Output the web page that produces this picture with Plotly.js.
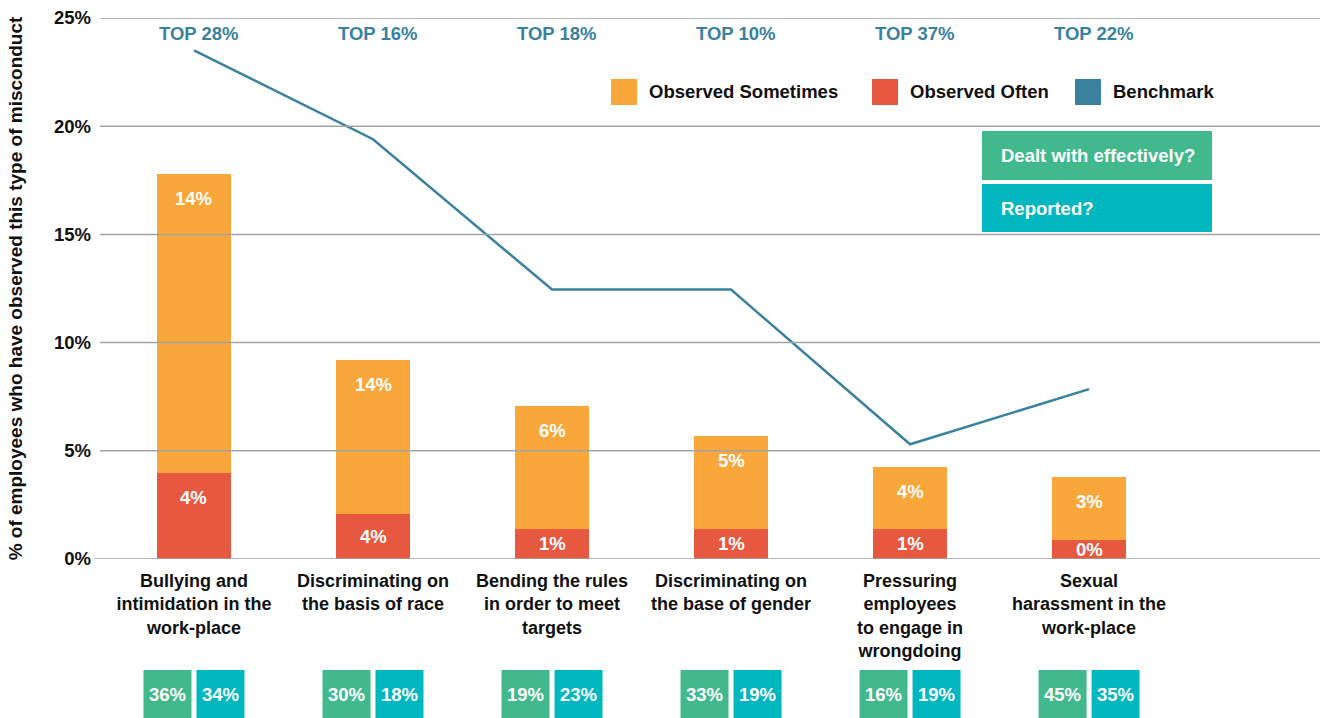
<!DOCTYPE html>
<html>
<head>
<meta charset="utf-8">
<script src="https://cdn.plot.ly/plotly-3.0.1.min.js"></script>
<style>html,body{margin:0;padding:0;background:#fff;}#chart{width:1325px;height:718px;}</style>
</head>
<body>
<div id="chart"></div>
<script>
// ---- data ----
const categories = ['Bullying and intimidation in the work-place','Discriminating on the basis of race','Bending the rules in order to meet targets','Discriminating on the base of gender','Pressuring employees to engage in wrongdoing','Sexual harassment in the work-place'];
const tickLabels = ['Bullying and<br>intimidation in the<br>work-place','Discriminating on<br>the basis of race','Bending the rules<br>in order to meet<br>targets','Discriminating on<br>the base of gender','Pressuring<br>employees<br>to engage in<br>wrongdoing','Sexual<br>harassment in the<br>work-place'];
const observedOften = [3.98, 2.08, 1.39, 1.39, 1.39, 0.88];
const observedSometimes = [13.82, 7.12, 5.69, 4.30, 2.87, 2.92];
const benchmark = [23.5, 19.4, 12.45, 12.45, 5.3, 7.85];
const oftenLabels = ['4%','4%','1%','1%','1%','0%'];
const sometimesLabels = ['14%','14%','6%','5%','4%','3%'];
const topLabels = ['TOP 28%','TOP 16%','TOP 18%','TOP 10%','TOP 37%','TOP 22%'];
const dealtWith = ['36%','30%','19%','33%','16%','45%'];
const reported = ['34%','18%','23%','19%','19%','35%'];
const yTicks = [0,5,10,15,20,25];

// ---- styling ----
const C_SOME = '#f9a63a', C_OFTEN = '#e6583f', C_BENCH = '#3a819f';
const C_DEALT = '#41b98d', C_REP = '#00b7c0', C_GRID = '#a3a3a3';
const FONT = 'Liberation Sans, Arial, sans-serif';
const FS = 18.5;
const W = 1325, H = 718;
const M = {l:100, r:5, t:18, b:159};
const PW = W - M.l - M.r, PH = H - M.t - M.b;
const px = x => (x - M.l) / PW;          // pixel -> paper x
const py = y => (H - M.b - y) / PH;       // pixel -> paper y
const idx = categories.map((c,i)=>i);
const BARW = 0.413;
const pxPerUnitY = PH / 25;
const boldWhite = {family:FONT, size:FS, color:'#fff', weight:'bold'};

const traces = [
  {type:'bar', x:idx, y:observedOften, width:BARW, marker:{color:C_OFTEN}, name:'Observed Often', hoverinfo:'skip'},
  {type:'bar', x:idx, y:observedSometimes, width:BARW, marker:{color:C_SOME}, name:'Observed Sometimes', hoverinfo:'skip'},
  {type:'scatter', mode:'lines', x:idx, y:benchmark, line:{color:C_BENCH, width:2.5}, name:'Benchmark', hoverinfo:'skip'}
];

const shapes = [], annotations = [];
// gridlines above bars
yTicks.forEach(v => {
  shapes.push({type:'line', xref:'paper', yref:'y', x0: v===0 ? px(94) : 0, x1: px(1320), y0:v, y1:v,
    line:{color:C_GRID, width:1.5}, layer:'above'});
});
// in-bar labels
const off = 25 / pxPerUnitY;
idx.forEach(i => {
  const t1 = observedOften[i];
  const y1 = Math.max(t1 - off, t1/2);
  annotations.push({x:i, y:y1, xref:'x', yref:'y', yanchor:'middle', text:oftenLabels[i], showarrow:false, font:boldWhite});
  const t2 = observedOften[i] + observedSometimes[i];
  const y2 = Math.max(t2 - off, (t1+t2)/2);
  annotations.push({x:i, y:y2, xref:'x', yref:'y', yanchor:'middle', text:sometimesLabels[i], showarrow:false, font:boldWhite});
  // TOP labels
  annotations.push({x:i, y:25, xref:'x', yref:'y', yanchor:'middle', yshift:-15, xshift:5, text:topLabels[i], showarrow:false,
    font:{family:FONT, size:FS, color:C_BENCH, weight:'bold'}});
  // bottom boxes
  shapes.push({type:'rect', xref:'x', xsizemode:'pixel', xanchor:i, x0:-50.5, x1:-2.5,
    yref:'paper', y0:py(670), y1:py(720), fillcolor:C_DEALT, line:{width:0}});
  shapes.push({type:'rect', xref:'x', xsizemode:'pixel', xanchor:i, x0:2.5, x1:50.5,
    yref:'paper', y0:py(670), y1:py(720), fillcolor:C_REP, line:{width:0}});
  annotations.push({x:i, xref:'x', xanchor:'center', xshift:-26.5, y:py(694), yref:'paper', yanchor:'middle',
    text:dealtWith[i], showarrow:false, font:boldWhite});
  annotations.push({x:i, xref:'x', xanchor:'center', xshift:26.5, y:py(694), yref:'paper', yanchor:'middle',
    text:reported[i], showarrow:false, font:boldWhite});
});
// legend (drawn manually with square swatches)
const legendItems = [
  {name:'Observed Sometimes', color:C_SOME, sx:611, tx:647},
  {name:'Observed Often', color:C_OFTEN, sx:872, tx:908},
  {name:'Benchmark', color:C_BENCH, sx:1075, tx:1111}
];
legendItems.forEach(it => {
  shapes.push({type:'rect', xref:'paper', yref:'paper', x0:px(it.sx), x1:px(it.sx+26), y0:py(105), y1:py(79),
    fillcolor:it.color, line:{width:0}});
  annotations.push({xref:'paper', yref:'paper', x:px(it.tx), y:py(92), xanchor:'left', yanchor:'middle', text:it.name, showarrow:false,
    font:{family:FONT, size:FS, color:'#111', weight:'bold'}});
});
// key boxes on right
[{t:'Dealt with effectively?', c:C_DEALT, y0:131, y1:180}, {t:'Reported?', c:C_REP, y0:184, y1:232}].forEach(b => {
  shapes.push({type:'rect', xref:'paper', yref:'paper', x0:px(982), x1:px(1212), y0:py(b.y1), y1:py(b.y0),
    fillcolor:b.c, line:{width:0}});
  annotations.push({xref:'paper', yref:'paper', x:px(999), y:py((b.y0+b.y1)/2), xanchor:'left', yanchor:'middle', text:b.t, showarrow:false,
    font:boldWhite});
});

const layout = {
  width:W, height:H, margin:M, paper_bgcolor:'#fff', plot_bgcolor:'#fff',
  barmode:'stack', showlegend:false,
  font:{family:FONT, color:'#111'},
  xaxis:{range:[-0.525, 6.29], tickmode:'array', tickvals:idx, ticktext:tickLabels,
    showgrid:false, zeroline:false, showline:false, ticks:'', fixedrange:true, ticklabelstandoff:9,
    tickfont:{family:FONT, size:18, color:'#111', weight:'bold'}},
  yaxis:{range:[0,25], tickvals:yTicks, ticktext:yTicks.map(v=>v+'%'), showgrid:false, zeroline:false,
    showline:false, ticks:'', fixedrange:true, ticklabelstandoff:8,
    tickfont:{family:FONT, size:FS, color:'#111', weight:'bold'},
    title:{text:'% of employees who have observed this type of misconduct', standoff:26,
      font:{family:FONT, size:19, color:'#111', weight:'bold'}}},
  shapes:shapes, annotations:annotations
};
Plotly.newPlot('chart', traces, layout, {displayModeBar:false, staticPlot:true});
</script>
</body>
</html>
